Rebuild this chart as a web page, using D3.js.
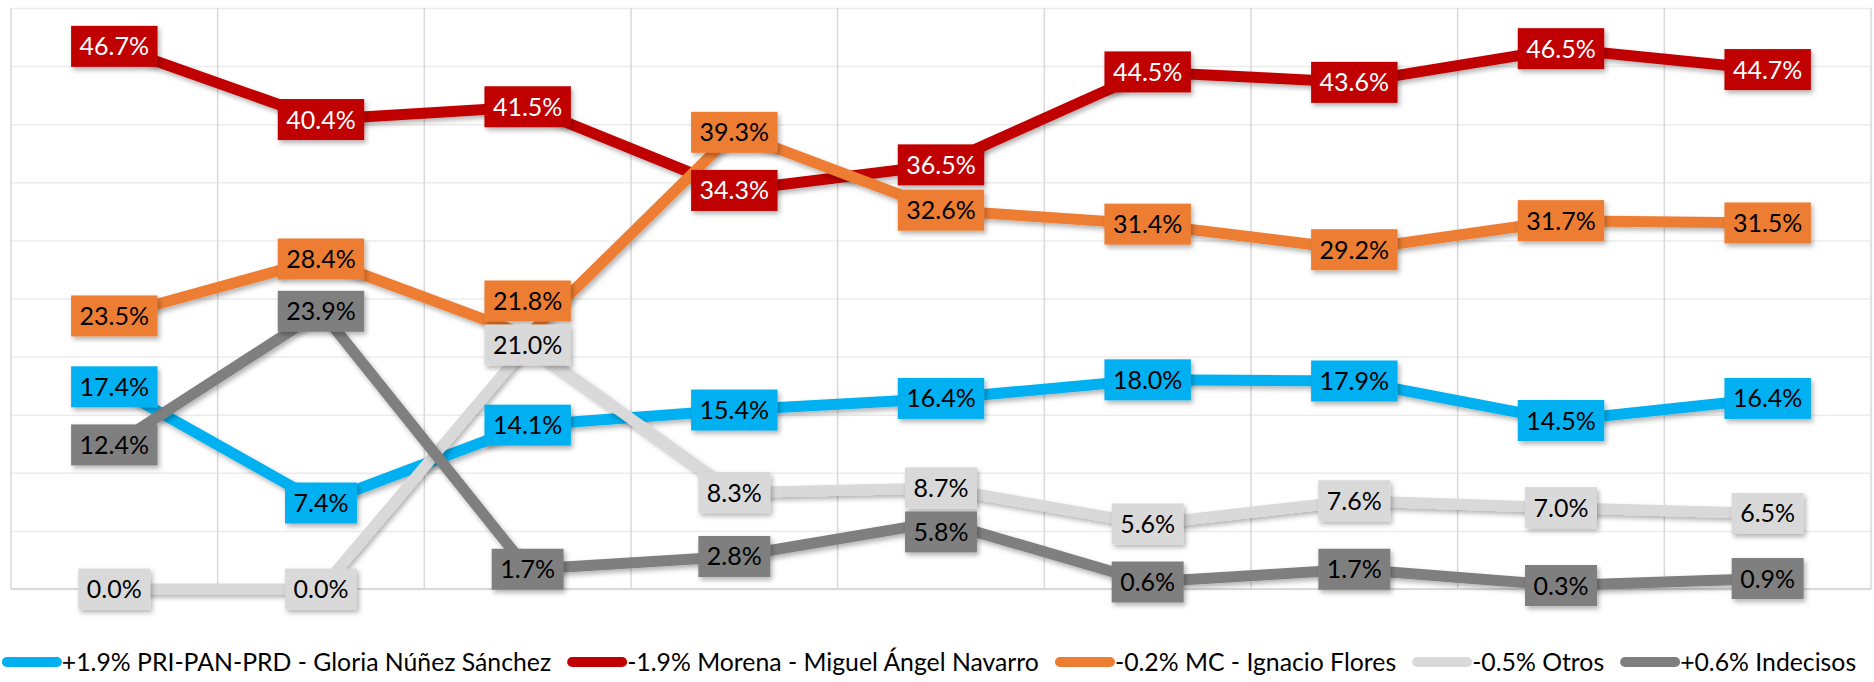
<!DOCTYPE html>
<html>
<head>
<meta charset="utf-8">
<script src="https://cdn.jsdelivr.net/npm/d3@7"></script>
<style>
  html, body { margin: 0; padding: 0; background: #fff; }
  svg { display: block; font-family: Lato, "Noto Sans", sans-serif; }
</style>
</head>
<body>
<svg id="chart" width="1874" height="682"></svg>
<script>
// ---- data ----
const categories = ["Encuesta 1", "Encuesta 2", "Encuesta 3", "Encuesta 4", "Encuesta 5", "Encuesta 6", "Encuesta 7", "Encuesta 8", "Encuesta 9"];
const seriesNames = [
  "+1.9% PRI-PAN-PRD - Gloria Núñez Sánchez",
  "-1.9% Morena - Miguel Ángel Navarro",
  "-0.2% MC - Ignacio Flores",
  "-0.5% Otros",
  "+0.6% Indecisos"
];
const priPanPrd = [17.4, 7.4, 14.1, 15.4, 16.4, 18.0, 17.9, 14.5, 16.4];
const morena    = [46.7, 40.4, 41.5, 34.3, 36.5, 44.5, 43.6, 46.5, 44.7];
const mc        = [23.5, 28.4, 21.8, 39.3, 32.6, 31.4, 29.2, 31.7, 31.5];
const otros     = [0.0, 0.0, 21.0, 8.3, 8.7, 5.6, 7.6, 7.0, 6.5];
const indecisos = [12.4, 23.9, 1.7, 2.8, 5.8, 0.6, 1.7, 0.3, 0.9];
const yTicks = [0, 5, 10, 15, 20, 25, 30, 35, 40, 45, 50];

// ---- styles / layout config ----
const seriesValues = [priPanPrd, morena, mc, otros, indecisos];
const seriesColors = ["#00b0f0", "#c00000", "#ed7d31", "#d9d9d9", "#7f7f7f"];
const labelTextColors = ["#000", "#fff", "#000", "#000", "#000"];
// labels moved to clear a colliding label: [series index, point index, other series index, direction]
const labelNudges = [[2, 2, 3, "up"], [4, 4, 3, "down"]];

const W = 1874, H = 682;
const plot = { left: 11, right: 1871, top: 8, bottom: 589 };
const BH = 41, PAD = 8.5, FS = 25, NUDGE_GAP = 3;

const svg = d3.select("#chart");
const defs = svg.append("defs");
const f = defs.append("filter").attr("id", "shadow")
  .attr("filterUnits", "userSpaceOnUse")
  .attr("x", -W).attr("y", -H).attr("width", 3 * W).attr("height", 3 * H);
f.append("feDropShadow").attr("dx", 2).attr("dy", 3).attr("stdDeviation", 2.5)
  .attr("flood-color", "#000").attr("flood-opacity", 0.3);

const x = d3.scaleBand().domain(categories).range([plot.left, plot.right]).paddingInner(0).paddingOuter(0);
const y = d3.scaleLinear().domain([0, 50]).range([plot.bottom, plot.top]);
const cx = c => x(c) + x.bandwidth() / 2;

// horizontal gridlines
const gy = svg.append("g").attr("transform", `translate(${plot.left},0)`)
  .call(d3.axisLeft(y).tickValues(yTicks).tickSize(-(plot.right - plot.left)).tickFormat(""));
gy.select(".domain").remove();
gy.selectAll(".tick line").attr("stroke", "#ececec").attr("stroke-width", 1.5);

// vertical gridlines
const vLines = categories.map(c => x(c)).concat([plot.right]);
svg.append("g").selectAll("line").data(vLines).join("line")
  .attr("x1", d => d).attr("x2", d => d)
  .attr("y1", plot.top).attr("y2", plot.bottom)
  .attr("stroke", "#d9d9d9").attr("stroke-width", 1.5);

// bottom axis line
svg.append("line").attr("x1", plot.left).attr("x2", plot.right)
  .attr("y1", plot.bottom).attr("y2", plot.bottom)
  .attr("stroke", "#d9d9d9").attr("stroke-width", 2);

// lines
const line = d3.line().x((d, i) => cx(categories[i])).y(d => y(d));
const linesG = svg.append("g");
seriesValues.forEach((vals, si) => {
  linesG.append("path")
    .attr("d", line(vals))
    .attr("fill", "none")
    .attr("stroke", seriesColors[si])
    .attr("stroke-width", 11)
    .attr("stroke-linejoin", "round")
    .attr("filter", "url(#shadow)");
});

// label vertical positions (with collision nudges)
function labelY(si, i) {
  const base = y(seriesValues[si][i]);
  const n = labelNudges.find(d => d[0] === si && d[1] === i);
  if (!n) return base;
  const other = y(seriesValues[n[2]][i]);
  return n[3] === "up" ? Math.min(base, other - BH - NUDGE_GAP) : Math.max(base, other + BH + NUDGE_GAP);
}

// labels
const labelsG = svg.append("g");
const fmt = d3.format(".1f");
seriesValues.forEach((vals, si) => {
  vals.forEach((v, i) => {
    const g = labelsG.append("g").attr("transform", `translate(${cx(categories[i])},${labelY(si, i)})`);
    const rect = g.append("rect").attr("fill", seriesColors[si]).attr("filter", "url(#shadow)");
    const t = g.append("text")
      .attr("text-anchor", "middle")
      .attr("dy", "0.36em")
      .attr("font-size", FS)
      .attr("fill", labelTextColors[si])
      .text(fmt(v) + "%");
    const tw = t.node().getComputedTextLength();
    const bw = tw + 2 * PAD;
    rect.attr("x", -bw / 2).attr("y", -BH / 2).attr("width", bw).attr("height", BH);
  });
});

// legend
const legendY = 662;
const swatchW = 60, gap = 16, targetTextTotal = 1491;
const legendG = svg.append("g");
const texts = seriesNames.map(n => legendG.append("text").attr("font-size", 24).attr("dy", "0.36em").attr("fill", "#000").text(n));
let total = d3.sum(texts, t => t.node().getComputedTextLength());
const fs = 24 * targetTextTotal / total;
texts.forEach(t => t.attr("font-size", fs));
const widths = texts.map(t => t.node().getComputedTextLength());
const legendTotal = d3.sum(widths) + seriesNames.length * swatchW + (seriesNames.length - 1) * gap;
let sx = 929 - legendTotal / 2;
seriesNames.forEach((n, i) => {
  legendG.append("line")
    .attr("x1", sx + 5).attr("x2", sx + swatchW - 5)
    .attr("y1", legendY).attr("y2", legendY)
    .attr("stroke", seriesColors[i]).attr("stroke-width", 10).attr("stroke-linecap", "round");
  texts[i].attr("x", sx + swatchW).attr("y", legendY);
  sx += swatchW + widths[i] + gap;
});
</script>
</body>
</html>
